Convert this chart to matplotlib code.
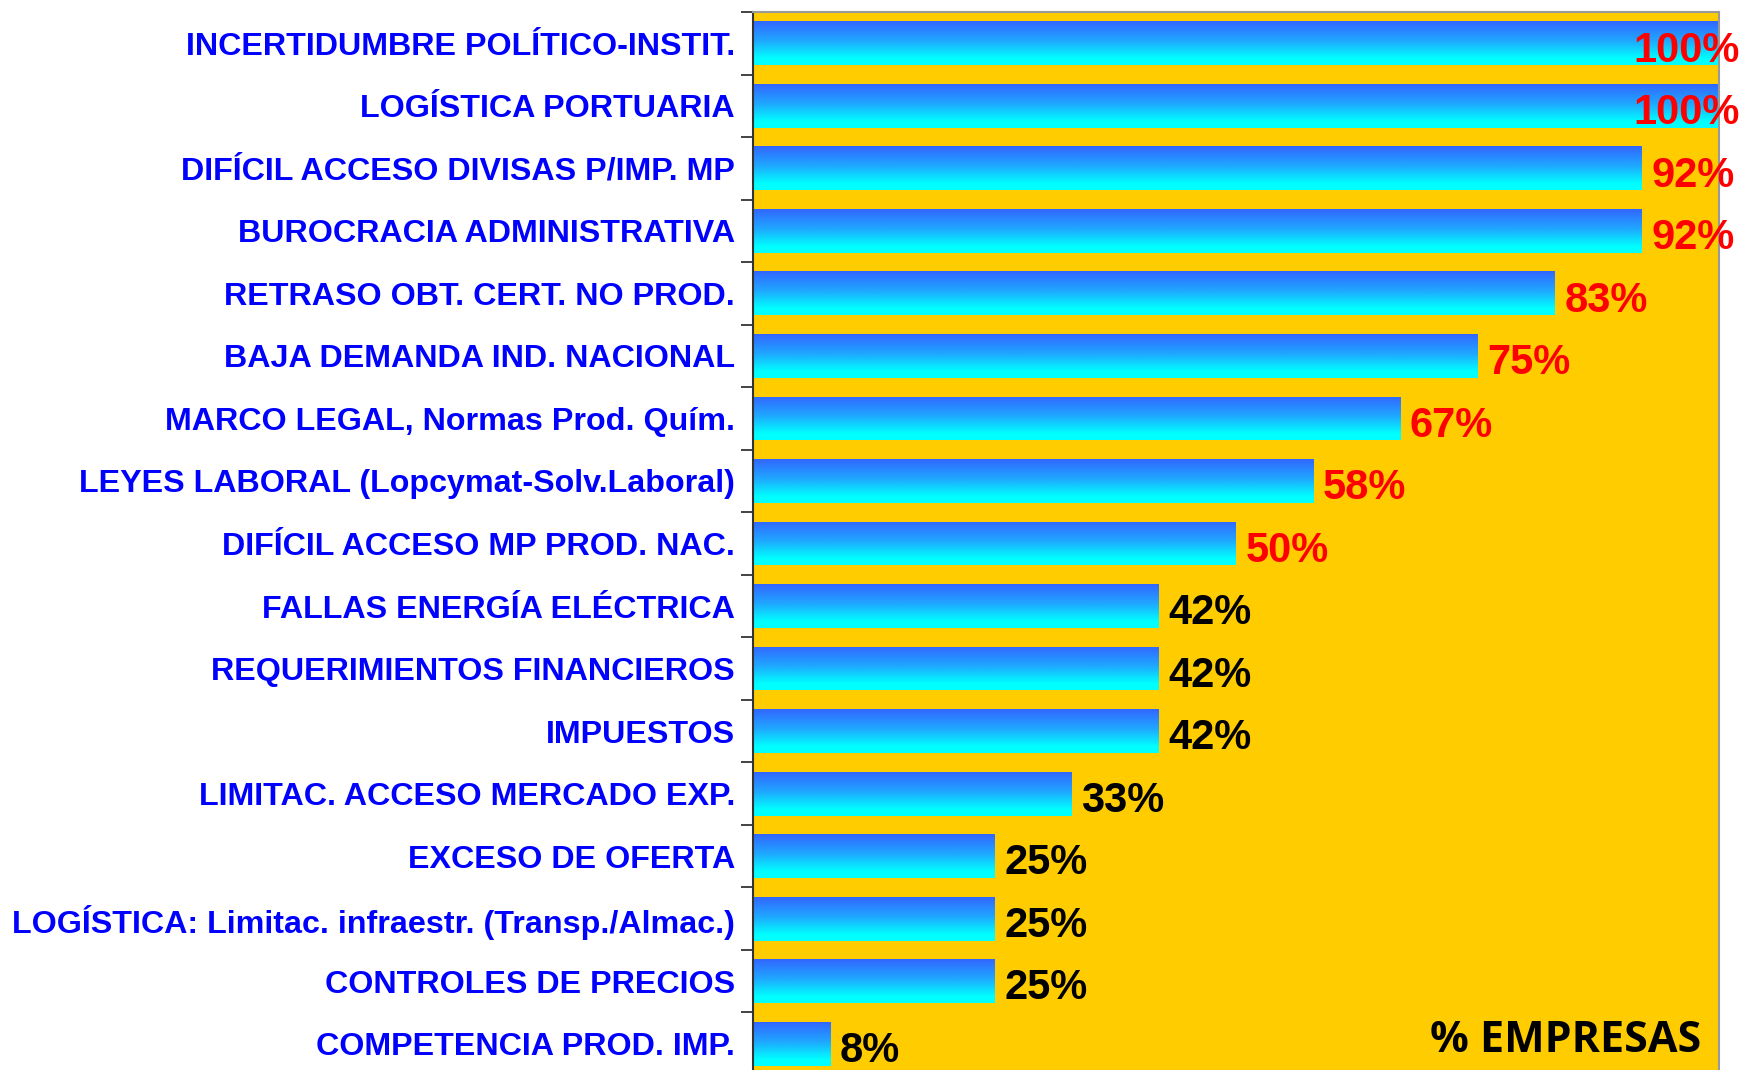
import matplotlib
matplotlib.use("Agg")
import matplotlib.pyplot as plt
import numpy as np
from matplotlib.colors import LinearSegmentedColormap

categories = [
    "INCERTIDUMBRE POLÍTICO-INSTIT.",
    "LOGÍSTICA PORTUARIA",
    "DIFÍCIL ACCESO DIVISAS P/IMP. MP",
    "BUROCRACIA ADMINISTRATIVA",
    "RETRASO OBT. CERT. NO PROD.",
    "BAJA DEMANDA IND. NACIONAL",
    "MARCO LEGAL, Normas Prod. Quím.",
    "LEYES LABORAL (Lopcymat-Solv.Laboral)",
    "DIFÍCIL ACCESO MP PROD. NAC.",
    "FALLAS ENERGÍA ELÉCTRICA",
    "REQUERIMIENTOS FINANCIEROS",
    "IMPUESTOS",
    "LIMITAC. ACCESO MERCADO EXP.",
    "EXCESO DE OFERTA",
    "LOGÍSTICA: Limitac. infraestr. (Transp./Almac.)",
    "CONTROLES DE PRECIOS",
    "COMPETENCIA PROD. IMP.",
]
values = [100, 100, 92, 92, 83, 75, 67, 58, 50, 42, 42, 42, 33, 25, 25, 25, 8]
value_labels = [f"{v}%" for v in values]
axis_note = "% EMPRESAS"

W, H = 1745, 1070
fig = plt.figure(figsize=(W / 100, H / 100), dpi=100)
ax = fig.add_axes([753 / W, 1 - 1075 / H, (1719 - 753) / W, (1075 - 12) / H])
ax.set_facecolor("#FFCC00")

cmap = LinearSegmentedColormap.from_list("bar", [(0.0, "#3366FF"), (0.45, "#1FA8FF"), (0.85, "#00FFFF"), (1.0, "#00FFFF")])
grad = np.linspace(0, 1, 256).reshape(-1, 1)

ypos = np.arange(len(categories))
bh = 0.70
bars = ax.barh(ypos, values, height=bh, color="none", edgecolor="none")
for b, y, v in zip(bars, ypos, values):
    im = ax.imshow(grad, cmap=cmap, aspect="auto", origin="upper",
                   extent=(0, v, y + bh / 2, y - bh / 2), interpolation="bilinear", zorder=2)
    im.set_clip_path(b)

ax.set_xlim(0, 100)
ax.set_ylim(len(categories) - 0.5, -0.5)

ax.set_yticks(ypos)
ax.set_yticklabels(categories, fontfamily=["Liberation Sans", "DejaVu Sans"],
                   fontweight="bold", fontsize=23.2, color="#0000FF")
ax.tick_params(axis="y", which="major", length=0, pad=13)
ax.set_yticks(np.arange(-0.5, len(categories), 1), minor=True)
ax.tick_params(axis="y", which="minor", length=9, width=1.2, color="#222222", direction="out")
ax.set_xticks([])

for s in ["top", "right"]:
    ax.spines[s].set_color("#999999")
    ax.spines[s].set_linewidth(1.5)
ax.spines["left"].set_color("#333333")
ax.spines["left"].set_linewidth(1.5)
ax.spines["bottom"].set_visible(False)

for y, v, t in zip(ypos, values, value_labels):
    col = "#FF0000" if v >= 50 else "#000000"
    if v >= 100:
        ax.annotate(t, xy=(v, y), xytext=(15, -2), textcoords="offset points", ha="right", va="center_baseline",
                    fontsize=30, fontweight="bold", color=col, family="Liberation Sans",
                    annotation_clip=False, zorder=5)
    else:
        ax.annotate(t, xy=(v, y), xytext=(7, -2), textcoords="offset points", ha="left", va="center_baseline",
                    fontsize=30, fontweight="bold", color=col, family="Liberation Sans", zorder=5)

ax.text(0.982, 1 - (1040 - 12) / (1075 - 12), axis_note, transform=ax.transAxes, ha="right", va="center",
        fontsize=31, fontweight="bold", family="Open Sans", color="#000000")

fig.savefig("out.png", dpi=100)
